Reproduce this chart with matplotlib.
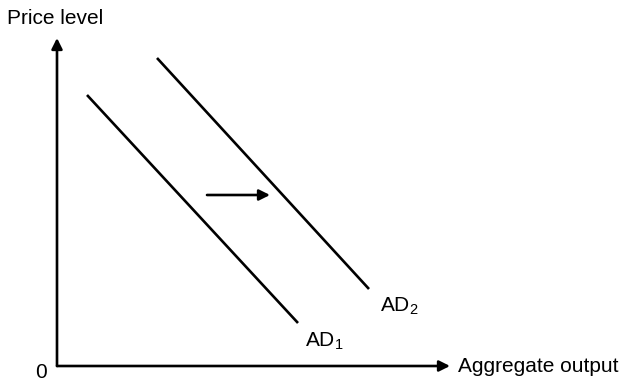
import matplotlib.pyplot as plt

# AD curves, in output/price units measured from the origin
ad1_x = [30, 241]
ad1_y = [271, 43]
ad2_x = [100, 312]
ad2_y = [308, 77]

# shift arrow (AD1 -> AD2)
shift_x = [150, 213]
shift_y = [171, 171]

x_axis_end = 393
y_axis_end = 328

plt.rcParams['font.family'] = ['Liberation Sans', 'DejaVu Sans']
plt.rcParams['mathtext.fontset'] = 'custom'
plt.rcParams['mathtext.rm'] = 'Liberation Sans'
plt.rcParams['mathtext.it'] = 'Liberation Sans'

fig = plt.figure(figsize=(6.27, 3.82), dpi=100)
ax = fig.add_axes([0, 0, 1, 1])
ax.set_xlim(-57, 570)
ax.set_ylim(-16, 366)
ax.axis('off')

lw = 1.9
arrow = dict(arrowstyle='-|>', color='black', lw=lw, mutation_scale=16,
             shrinkA=0, shrinkB=0)

# axes
ax.annotate('', xy=(x_axis_end, 0), xytext=(0, 0), arrowprops=arrow)
ax.annotate('', xy=(0, y_axis_end), xytext=(0, 0), arrowprops=arrow)

# curves
ax.plot(ad1_x, ad1_y, color='black', lw=lw, solid_capstyle='butt')
ax.plot(ad2_x, ad2_y, color='black', lw=lw, solid_capstyle='butt')
ax.annotate('', xy=(shift_x[1], shift_y[1]), xytext=(shift_x[0], shift_y[0]),
            arrowprops=arrow)

fs = 15
ax.text(-50, 347, 'Price level', fontsize=fs, ha='left', va='center')
ax.text(-16, -6, '0', fontsize=fs, ha='center', va='center')
ax.text(401, 0, 'Aggregate output', fontsize=fs, ha='left', va='center')
ax.text(248, 25, r'AD$_\mathrm{1}$', fontsize=fs, ha='left', va='center')
ax.text(323, 60, r'AD$_\mathrm{2}$', fontsize=fs, ha='left', va='center')

fig.savefig('out.png', dpi=100)
